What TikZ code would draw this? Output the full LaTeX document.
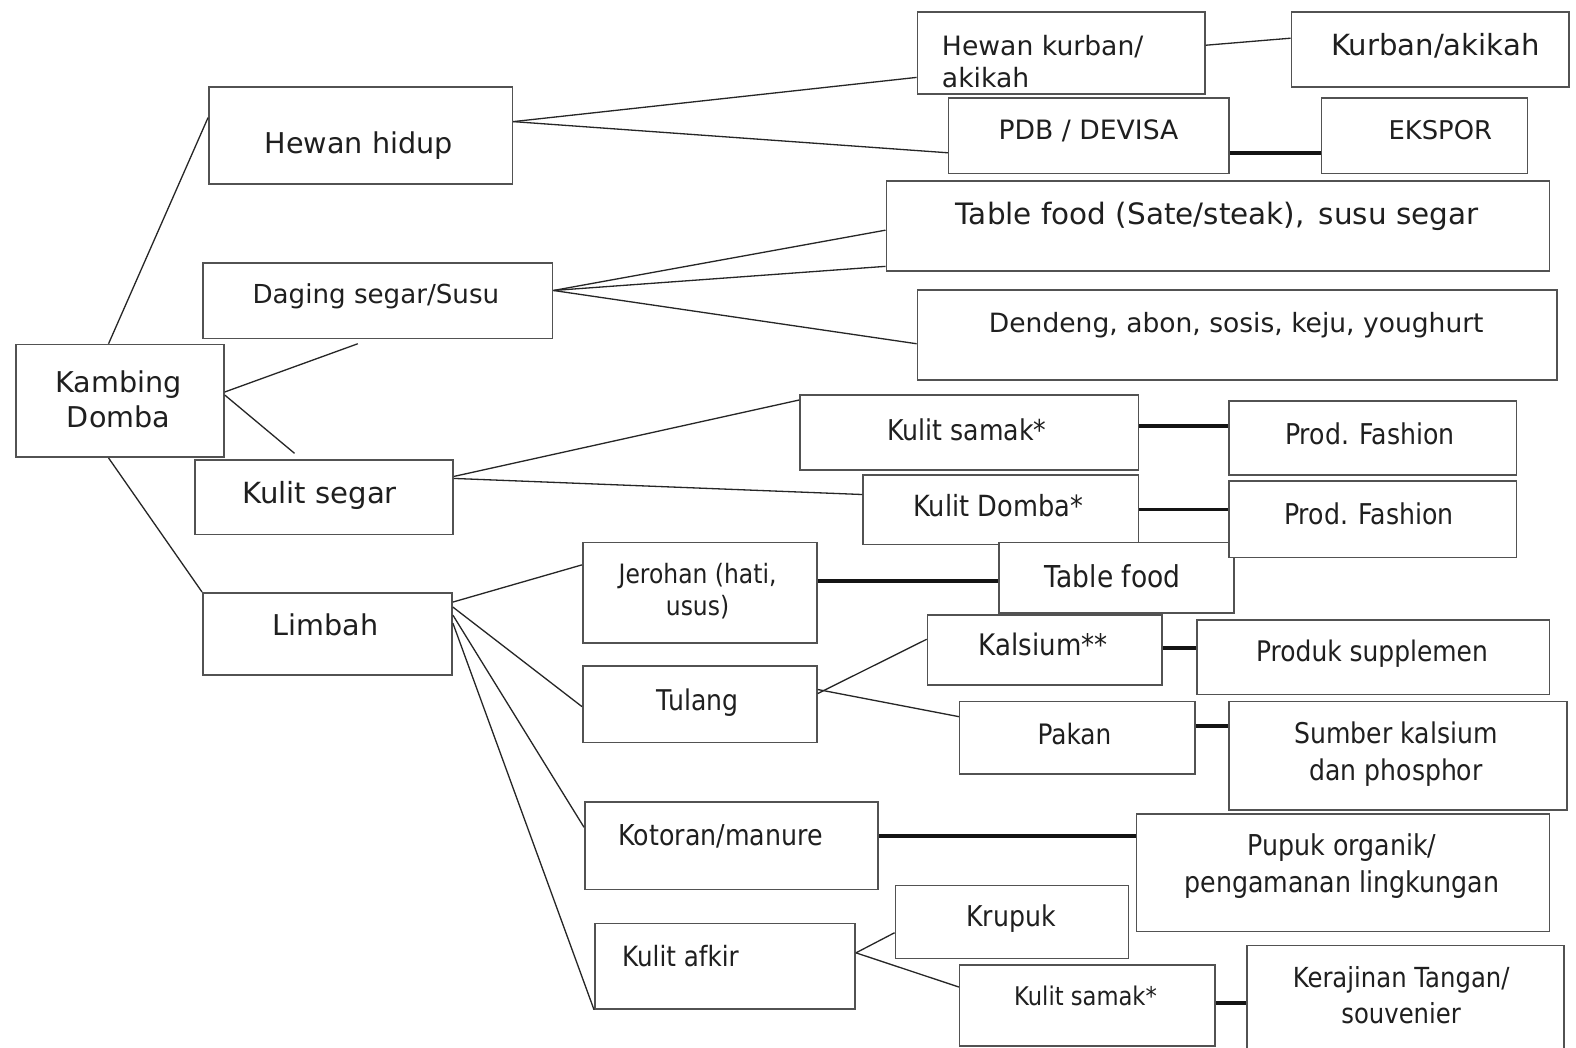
\documentclass[tikz,border=0pt]{standalone}
\usepackage{fontspec}
\setmainfont{DejaVu Sans}
\newfontfamily\narrowface[FakeStretch=0.88]{DejaVu Sans}
\usetikzlibrary{calc}
\begin{document}
\begin{tikzpicture}[x=1pt,y=-1pt,
  box/.style={draw=black!68, line width=1.6pt, fill=white, anchor=north west, inner sep=0pt},
  link/.style={draw=black!85, line width=1.3pt},
  strong/.style={draw=black!92, line width=3.6pt},
  wide/.style={font=\fontsize{#1}{35}\selectfont, text=black!88, inner sep=0pt},
  narrow/.style={font=\narrowface\fontsize{#1}{37}\selectfont, text=black!88, inner sep=0pt},
]
\useasboundingbox (0,0) rectangle (1568,1042);
\fill[white] (0,0) rectangle (1568,1042);

% ---------- boxes ----------
\node[box, minimum width=207pt, minimum height=112pt] (kd)  at (15,342) {};
\node[box, minimum width=302pt, minimum height=96pt]  (hh)  at (207,86) {};
\node[box, minimum width=348pt, minimum height=75pt]  (dg)  at (201,261) {};
\node[box, minimum width=257pt, minimum height=74pt]  (ks)  at (193,457) {};
\node[box, minimum width=248pt, minimum height=82pt]  (lb)  at (201,589) {};

\node[box, minimum width=286pt, minimum height=82pt]  (hk)  at (912,11) {};
\node[box, minimum width=276pt, minimum height=75pt]  (ka)  at (1284,11) {};
\node[box, minimum width=279pt, minimum height=75pt]  (pdb) at (943,97) {};
\node[box, minimum width=205pt, minimum height=75pt]  (ek)  at (1314,97) {};
\node[box, minimum width=660pt, minimum height=90pt]  (tf)  at (881,179) {};
\node[box, minimum width=636pt, minimum height=89pt]  (dd)  at (912,288) {};

\node[box, minimum width=337pt, minimum height=75pt]  (sm)  at (795,392) {};
\node[box, minimum width=286pt, minimum height=74pt]  (pfa) at (1222,398) {};
\node[box, minimum width=274pt, minimum height=69pt]  (kdm) at (858,472) {};
\node[box, minimum width=234pt, minimum height=70pt]  (tfd) at (993,539) {};
\node[box, minimum width=286pt, minimum height=76pt]  (pfb) at (1222,478) {};

\node[box, minimum width=233pt, minimum height=100pt] (jr)  at (579,539) {};
\node[box, minimum width=233pt, minimum height=76pt]  (tl)  at (579,662) {};
\node[box, minimum width=233pt, minimum height=70pt]  (kal) at (922,611) {};
\node[box, minimum width=351pt, minimum height=74pt]  (ps)  at (1190,616) {};
\node[box, minimum width=234pt, minimum height=72pt]  (pk)  at (954,697) {};
\node[box, minimum width=336pt, minimum height=108pt] (sb)  at (1222,697) {};
\node[box, minimum width=292pt, minimum height=87pt]  (kt)  at (581,797) {};
\node[box, minimum width=411pt, minimum height=117pt] (pp)  at (1130,809) {};
\node[box, minimum width=259pt, minimum height=85pt]  (ka2) at (591,918) {};
\node[box, minimum width=232pt, minimum height=73pt]  (kr)  at (890,880) {};
\node[box, minimum width=254pt, minimum height=81pt]  (smb) at (954,959) {};
\node[box, minimum width=315pt, minimum height=104pt] (kj)  at (1240,940) {};

% ---------- labels ----------
\node[wide=28.5, align=center] (kdT) at (118,397) {Kambing\\Domba};
\node[wide=28.5, anchor=base] (hhT) at (357,153) {Hewan hidup};
\node[wide=26, anchor=base] (dgT) at (374,302) {Daging segar/Susu};
\node[wide=29, anchor=base] (ksT) at (318,501) {Kulit segar};
\node[wide=28.5, anchor=base] (lbT) at (324,632) {Limbah};

\node[wide=26.5, align=left, anchor=west, font=\fontsize{26.5}{32}\selectfont] (hkT) at (937,61) {Hewan kurban/\\akikah};
\node[wide=29, anchor=base] (kaT) at (1428,55) {Kurban/akikah};
\node[wide=26.5, anchor=base] (pdbT) at (1083,139) {PDB / DEVISA};
\node[wide=25.7, anchor=base] (ekT) at (1433,139) {EKSPOR};
\node[wide=29.3, anchor=base] (tfT) at (1211,223) {Table food (Sate/steak),\ \,susu segar};
\node[wide=26.4, anchor=base] (ddT) at (1230,331) {Dendeng, abon, sosis, keju, youghurt};

\node[narrow=28.5, anchor=base] (smT) at (962,438) {Kulit samak*};
\node[narrow=28.5, anchor=base] (pfaT) at (1363,442) {Prod. Fashion};
\node[narrow=29, anchor=base] (kdmT) at (993,514) {Kulit Domba*};
\node[narrow=28.5, anchor=base] (pfbT) at (1362,522) {Prod. Fashion};

\node[narrow=26.5, align=center, font=\narrowface\fontsize{26.5}{32}\selectfont] (jrT) at (694,588) {Jerohan (hati,\\usus)};
\node[narrow=30, anchor=base] (tfdT) at (1107,585) {Table food};
\node[narrow=28.4, anchor=base] (tlT) at (694,707) {Tulang};
\node[narrow=29.5, anchor=base] (kalT) at (1038,652) {Kalsium**};
\node[narrow=28.2, anchor=base] (psT) at (1365,658) {Produk supplemen};
\node[narrow=28, anchor=base] (pkT) at (1069,741) {Pakan};
\node[narrow=28.4, align=center] (sbT) at (1389,750) {Sumber kalsium\\dan phosphor};
\node[narrow=28.6, anchor=base] (ktT) at (717,841) {Kotoran/manure};
\node[narrow=28.6, align=center] (ppT) at (1335,862) {Pupuk organik/\\pengamanan lingkungan};
\node[narrow=27.8, anchor=base] (ka2T) at (677,962) {Kulit afkir};
\node[narrow=28.5, anchor=base] (krT) at (1006,922) {Krupuk};
\node[narrow=25.6, anchor=base] (smbT) at (1080,1000) {Kulit samak*};
\node[narrow=27.5, align=center, font=\narrowface\fontsize{27.5}{36}\selectfont] (kjT) at (1394,990) {Kerajinan Tangan/\\souvenier};

% ---------- connectors ----------
\coordinate (dgfree) at (356,342);
\coordinate (ksfree) at (293,451);
\draw[link] ([xshift=93pt]kd.north west) -- ([yshift=-31pt]hh.north west);
\draw[link] ([yshift=-48pt]kd.north east) -- (dgfree);
\draw[link] ([yshift=-51pt]kd.north east) -- (ksfree);
\draw[link] ([xshift=93pt]kd.south west) -- (lb.north west);

\draw[link] ([yshift=-35pt]hh.north east) -- ([yshift=-66pt]hk.north west);
\draw[link] ([yshift=-35pt]hh.north east) -- ([yshift=-55pt]pdb.north west);
\draw[link] ([yshift=-34pt]hk.north east) -- ([yshift=-27pt]ka.north west);
\draw[strong] ([yshift=-55pt]pdb.north east) -- ([yshift=-55pt]ek.north west);

\draw[link] ([yshift=-28pt]dg.north east) -- ([yshift=-50pt]tf.north west);
\draw[link] ([yshift=-28pt]dg.north east) -- ([yshift=-86pt]tf.north west);
\draw[link] ([yshift=-28pt]dg.north east) -- ([yshift=-54pt]dd.north west);

\draw[link] ([yshift=-17pt]ks.north east) -- ([yshift=-6pt]sm.north west);
\draw[link] ([yshift=-19pt]ks.north east) -- ([yshift=-20pt]kdm.north west);
\draw[strong] ([yshift=-32pt]sm.north east) -- ([yshift=-26pt]pfa.north west);
\draw[strong] ([yshift=-35pt]kdm.north east) -- ([yshift=-29pt]pfb.north west);

\draw[link] ([yshift=-10pt]lb.north east) -- ([yshift=-23pt]jr.north west);
\draw[link] ([yshift=-15pt]lb.north east) -- ([yshift=-41pt]tl.north west);
\draw[link] ([yshift=-23pt]lb.north east) -- ([yshift=-26pt]kt.north west);
\draw[link] ([yshift=-31pt]lb.north east) -- (ka2.south west);

\draw[strong] ([yshift=-39pt]jr.north east) -- ([yshift=-39pt]tfd.north west);
\draw[link] ([yshift=-28pt]tl.north east) -- ([yshift=-25pt]kal.north west);
\draw[link] ([yshift=-24pt]tl.north east) -- ([yshift=-16pt]pk.north west);
\draw[strong] ([yshift=-34pt]kal.north east) -- ([yshift=-29pt]ps.north west);
\draw[strong] ([yshift=-25pt]pk.north east) -- ([yshift=-25pt]sb.north west);
\draw[strong] ([yshift=-35pt]kt.north east) -- ([yshift=-23pt]pp.north west);

\draw[link] ([yshift=-30pt]ka2.north east) -- ([yshift=-48pt]kr.north west);
\draw[link] ([yshift=-30pt]ka2.north east) -- ([yshift=-23pt]smb.north west);
\draw[strong] ([yshift=-39pt]smb.north east) -- ([yshift=-58pt]kj.north west);
\end{tikzpicture}
\end{document}
